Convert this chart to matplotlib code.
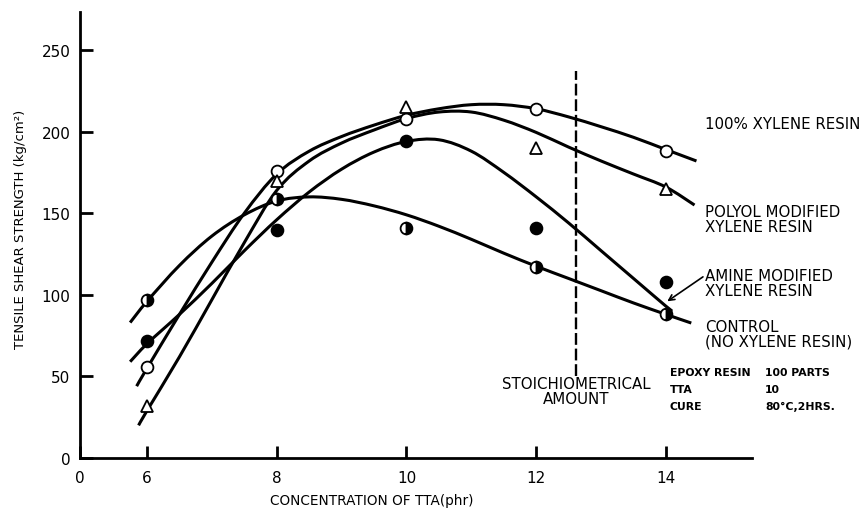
import numpy as np
import matplotlib
matplotlib.use("Agg")
import matplotlib.pyplot as plt
from matplotlib.path import Path
from matplotlib.patches import PathPatch

# ---- measured points (TTA concentration, phr -> tensile shear strength, kg/cm2)
tta = [6, 8, 10, 12, 14]
xylene_pts = [56, 176, 208, 214, 188]
polyol_pts = [32, 170, 215, 190, 165]
amine_pts = [72, 140, 194, 141, 108]
control_pts = [97, 159, 141, 117, 88]

# ---- hand-faired curves through the data
xylene_cx = [5.84, 6, 6.5, 7, 7.5, 8, 8.5, 9, 9.5, 10, 10.5, 11, 11.5, 12, 12.5, 13, 13.5, 14, 14.47]
xylene_cy = [44, 55, 88, 120, 150, 174, 188, 197, 204, 210, 214, 216.5, 216.5, 214, 209, 203, 196.5, 189, 182]

polyol_cx = [5.87, 6, 6.5, 7, 7.5, 8, 8.5, 9, 9.5, 10, 10.5, 11, 11.5, 12, 12.5, 13, 13.5, 14, 14.44]
polyol_cy = [20, 29, 62, 97, 132, 164, 182, 193, 201, 208, 212, 212, 207, 199.5, 190.5, 182, 174, 166, 155]

amine_cx = [5.74, 6, 6.5, 7, 7.5, 8, 8.5, 9, 9.5, 10, 10.5, 11, 11.5, 12, 12.5, 13, 13.5, 14, 14.1]
amine_cy = [59, 70, 88, 107, 127, 146, 163, 177, 187.5, 194, 195, 188, 175, 160, 144, 127, 110, 93, 90]

control_cx = [5.74, 6, 6.5, 7, 7.5, 8, 8.5, 9, 9.5, 10, 10.5, 11, 11.5, 12, 12.5, 13, 13.5, 14, 14.39]
control_cy = [83, 96, 118, 136, 149, 157.5, 160, 158.5, 154.5, 149, 142, 134, 125.5, 117.5, 110, 102.5, 95, 88, 82.7]

series_labels = ["100% XYLENE RESIN", "POLYOL MODIFIED\nXYLENE RESIN",
                 "AMINE MODIFIED\nXYLENE RESIN", "CONTROL\n(NO XYLENE RESIN)"]
x_ticks = [6, 8, 10, 12, 14]
x_tick_labels = ["6", "8", "10", "12", "14"]
y_ticks = [0, 50, 100, 150, 200, 250]
stoich_x = 12.62

conditions = [("EPOXY RESIN", "100 PARTS"), ("TTA", "10"), ("CURE", "80°C,2HRS.")]

plt.rcParams["font.family"] = ["DejaVu Sans"]


def faired_path(xs, ys):
    """Smooth cubic (Catmull-Rom) path through the given points."""
    pts = np.column_stack([xs, ys]).astype(float)
    n = len(pts)
    verts = [pts[0]]
    codes = [Path.MOVETO]
    for i in range(n - 1):
        p0 = pts[i - 1] if i > 0 else pts[i]
        p1 = pts[i]
        p2 = pts[i + 1]
        p3 = pts[i + 2] if i + 2 < n else pts[i + 1]
        verts += [p1 + (p2 - p0) / 6.0, p2 - (p3 - p1) / 6.0, p2]
        codes += [Path.CURVE4] * 3
    return Path(verts, codes)


fig = plt.figure(figsize=(8.63, 5.10), dpi=100)
ax = fig.add_axes([80 / 863, 1 - 459 / 510, (752 - 80) / 863, (459 - 13) / 510])
x_left = 4.967
ax.set_xlim(x_left, 15.326)
ax.set_ylim(0, 273.3)

for cx, cy in [(xylene_cx, xylene_cy), (polyol_cx, polyol_cy),
               (amine_cx, amine_cy), (control_cx, control_cy)]:
    ax.add_patch(PathPatch(faired_path(cx, cy), facecolor="none",
                           edgecolor="black", lw=2.2, zorder=2))

mk = dict(linestyle="none", markeredgecolor="black", markersize=8.5,
          markeredgewidth=1.3, zorder=4)
ax.plot(tta, xylene_pts, marker="o", markerfacecolor="white", **mk)
ax.plot(tta, polyol_pts, marker="^", markerfacecolor="white", **mk)
ax.plot(tta, amine_pts, marker="o", markerfacecolor="black", **mk)
ax.plot(tta, control_pts, marker="o", fillstyle="right",
        markerfacecolor="black", markerfacecoloralt="white", **mk)

# stoichiometric amount of TTA
ax.plot([stoich_x, stoich_x], [50, 237], color="black", lw=1.7,
        linestyle=(0, (5, 1.6)), zorder=1)
ax.text(stoich_x, 41, "STOICHIOMETRICAL\nAMOUNT", ha="center", va="center",
        fontsize=10.8, linespacing=1.0)

# curve labels
label_x = 14.6
lab = dict(ha="left", va="center", fontsize=10.8, linespacing=1.0, clip_on=False)
ax.text(label_x, 205, series_labels[0], **lab)
ax.text(label_x, 146.5, series_labels[1], **lab)
ax.text(label_x, 107, series_labels[2], **lab)
ax.text(label_x, 76, series_labels[3], **lab)
ax.annotate("", xy=(14.02, 96), xytext=(14.57, 111),
            arrowprops=dict(arrowstyle="->", lw=1.2, color="black",
                            shrinkA=0, shrinkB=0, mutation_scale=10),
            annotation_clip=False)

# cure conditions
for i, (k, v) in enumerate(conditions):
    yy = [52.7, 42.0, 32.0][i]
    ax.text(14.06, yy, k, ha="left", va="center", fontsize=7.8, fontweight="bold", clip_on=False)
    ax.text(15.53, yy, v, ha="left", va="center", fontsize=7.8, fontweight="bold", clip_on=False)

# axes styling
for s in ["top", "right"]:
    ax.spines[s].set_visible(False)
for s in ["left", "bottom"]:
    ax.spines[s].set_linewidth(2.0)

ax.set_xticks([x_left] + x_ticks)
ax.set_xticklabels(["0"] + x_tick_labels)
ax.set_yticks(y_ticks)
ax.tick_params(axis="x", direction="in", length=9, width=2.0, pad=9, labelsize=11)
ax.tick_params(axis="y", direction="in", length=9.5, width=2.0, pad=7, labelsize=11)

fig.text(372 / 863, 1 - 501 / 510, "CONCENTRATION OF TTA(phr)", ha="center",
         va="center", fontsize=9.8)
fig.text(21 / 863, 1 - 229 / 510, "TENSILE SHEAR STRENGTH (kg/cm²)", rotation=90,
         ha="center", va="center", fontsize=9.5)

fig.savefig("out.png", dpi=100)
